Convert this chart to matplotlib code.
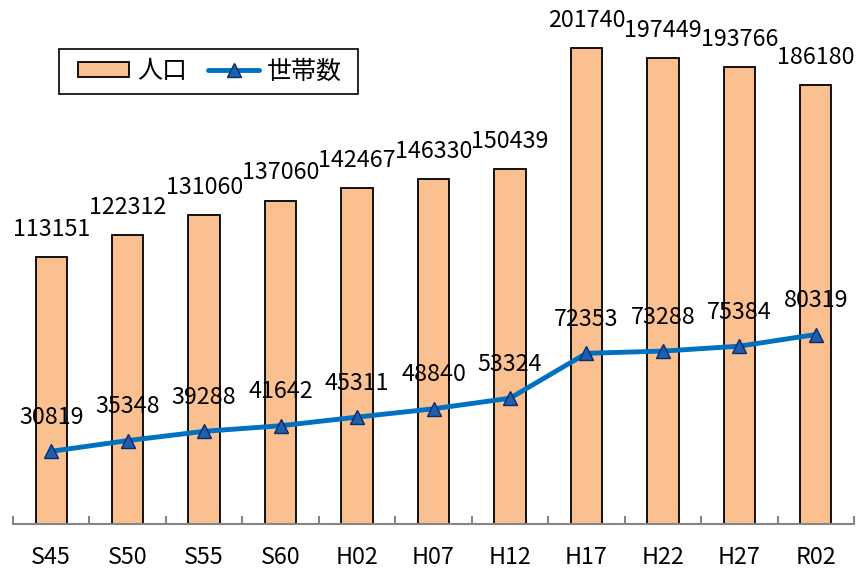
import matplotlib
matplotlib.use("Agg")
import matplotlib.pyplot as plt
from matplotlib.patches import Rectangle
import numpy as np

plt.rcParams['font.family'] = ['Noto Sans CJK JP', 'DejaVu Sans']

categories = ["S45", "S50", "S55", "S60", "H02", "H07", "H12", "H17", "H22", "H27", "R02"]
population = [113151, 122312, 131060, 137060, 142467, 146330, 150439, 201740, 197449, 193766, 186180]
households = [30819, 35348, 39288, 41642, 45311, 48840, 53324, 72353, 73288, 75384, 80319]

W, H = 856, 571
fig = plt.figure(figsize=(W/100, H/100), dpi=100)
ax = fig.add_axes([13/W, 47/H, 841/W, 519/H])

x = np.arange(len(categories))
bars = ax.bar(x, population, width=0.41, color='#FAC090', edgecolor='black', linewidth=1.3, label='人口', zorder=2)
line, = ax.plot(x, households, color='#0070C0', linewidth=3.5, marker='^', markersize=10,
                markerfacecolor='#1F5FAF', markeredgecolor='#0A2A6A', markeredgewidth=1.0,
                label='世帯数', zorder=3, solid_capstyle='round')

fs = 16.8
for xi, v in zip(x, population):
    ax.annotate(str(v), (xi, v), xytext=(0, 20), textcoords='offset points',
                ha='center', va='center', fontsize=fs, color='black')
for xi, v in zip(x, households):
    ax.annotate(str(v), (xi, v), xytext=(0, 24.5), textcoords='offset points',
                ha='center', va='center', fontsize=fs, color='black')

ax.set_xlim(-0.5, len(categories) - 0.5)
ax.set_ylim(0, 220000)
for s in ['top', 'right', 'left']:
    ax.spines[s].set_visible(False)
ax.spines['bottom'].set_color('#868686')
ax.spines['bottom'].set_linewidth(1.5)
ax.set_yticks([])
ax.set_xticks(x)
ax.set_xticklabels(categories, fontsize=fs)
ax.tick_params(axis='x', which='major', length=0, pad=16)
ax.set_xticks(np.arange(-0.5, len(categories), 1.0), minor=True)
ax.tick_params(axis='x', which='minor', direction='in', length=6, width=1.5, color='#868686')

# legend (frame drawn separately)
lfs = 18
leg = fig.legend(handles=[bars, line], loc='center left',
                 bbox_to_anchor=(78/W, 1 - 71.5/H),
                 ncol=2, fontsize=lfs, frameon=False,
                 handlelength=2.04, handleheight=0.52, columnspacing=0.85, handletextpad=0.32,
                 borderpad=0.0, borderaxespad=0)
fig.patches.append(Rectangle((59/W, 1 - 94/H), 299/W, 45/H, transform=fig.transFigure,
                             facecolor='white', edgecolor='black', linewidth=1.2, zorder=4))
leg.set_zorder(5)

fig.savefig("out.png", dpi=100)
